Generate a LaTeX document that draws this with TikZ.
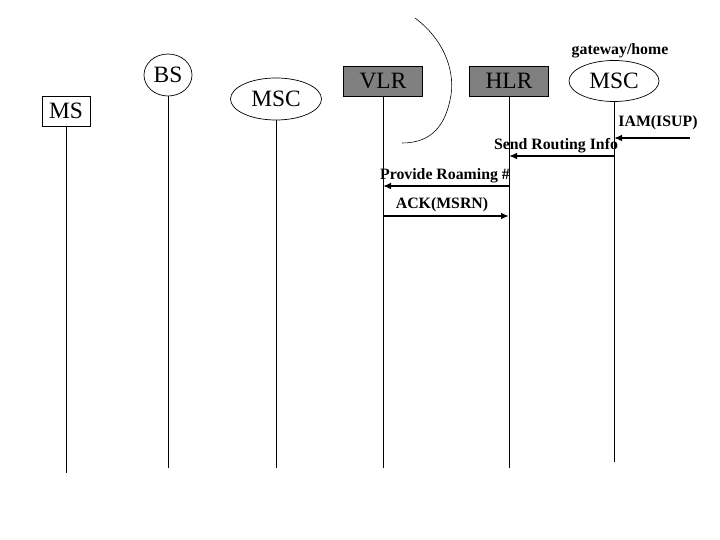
\documentclass[tikz,border=0pt]{standalone}
\usepackage{fontspec}
\setmainfont{Liberation Serif}
\usetikzlibrary{arrows.meta,shapes.geometric}
\definecolor{cBox}{HTML}{808080}
\definecolor{cLine}{HTML}{000000}

\begin{document}
\begin{tikzpicture}[x=0.03cm, y=-0.03cm, >={Latex[length=2.4mm,width=2mm]},
    ent/.style={font=\fontsize{20}{24}\selectfont, inner sep=0pt},
    entbox/.style={ent, rectangle, draw=cLine, line width=0.6pt},
    entell/.style={ent, ellipse, draw=cLine, line width=0.6pt},
    life/.style={cLine, line width=0.6pt},
    msg/.style={->, cLine, line width=1.6pt},
    lbl/.style={font=\fontsize{13.5}{16}\selectfont\bfseries, inner sep=0pt}]
    \useasboundingbox (0,0) rectangle (720,540);
    % entities
    \node[entbox, minimum width=1.44cm, minimum height=0.9cm] (ms) at (66,111) {MS};
    \node[entell, minimum width=1.44cm, minimum height=1.26cm] (bs) at (168,75) {BS};
    \node[entell, minimum width=2.73cm, minimum height=1.26cm] (msc) at (276,99) {MSC};
    \node[entbox, fill=cBox, minimum width=2.37cm, minimum height=0.9cm] (vlr) at (383,81) {VLR};
    \node[entbox, fill=cBox, minimum width=2.37cm, minimum height=0.9cm] (hlr) at (509,81) {HLR};
    \node[entell, minimum width=2.7cm, minimum height=1.23cm] (gmsc) at (614,81) {MSC};
    \node[lbl] (gw) at (620,51) {gateway/home};
    % lifelines
    \coordinate (ms-end) at (66,473);
    \coordinate (bs-end) at (168,468);
    \coordinate (msc-end) at (276,468);
    \coordinate (vlr-end) at (383,468);
    \coordinate (hlr-end) at (509,468);
    \coordinate (gmsc-end) at (614,462);
    \foreach \e in {ms,bs,msc,vlr,hlr,gmsc}
      \draw[life] (\e.south) -- (\e-end);
    % network boundary
    \draw[line width=0.5pt] (415,18) .. controls (442,38) and (455,68) .. (451,95)
      .. controls (446,125) and (432,143) .. (402,143);
    % messages
    \coordinate (isup) at (690,138);
    \draw[msg] (isup) -- (gmsc.south |- isup);
    \node[lbl] (iam-l) at (658,123) {IAM(ISUP)};
    \draw[msg] (gmsc.south |- 0,156) -- (hlr.south |- 0,156);
    \node[lbl] (sri-l) at (556,146) {Send Routing Info};
    \draw[msg] (hlr.south |- 0,186) -- (vlr.south |- 0,186);
    \node[lbl] (prn-l) at (445,176) {Provide Roaming \#};
    \draw[msg] (vlr.south |- 0,216) -- (hlr.south |- 0,216);
    \node[lbl] (ack-l) at (442,205) {ACK(MSRN)};
\end{tikzpicture}
\end{document}
